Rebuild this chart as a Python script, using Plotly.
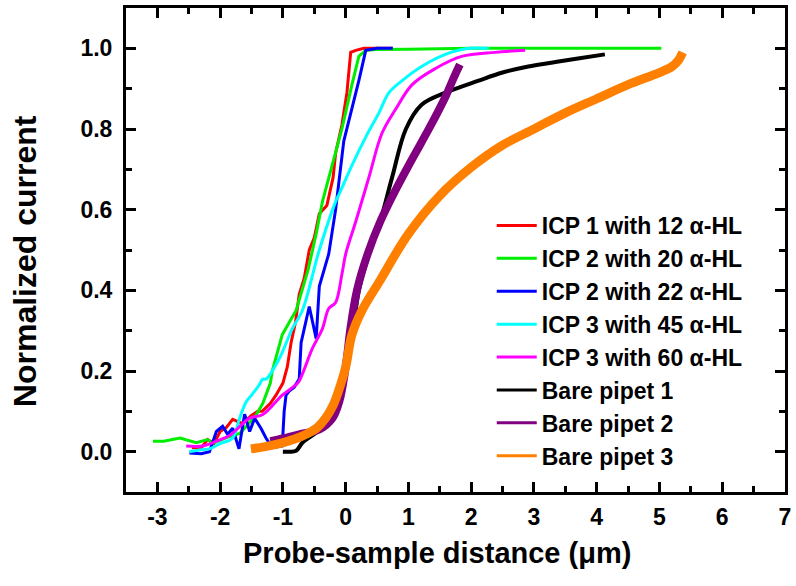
import plotly.graph_objects as go

# ---------------- data ----------------
names = ["ICP 1 with 12 α-HL", "ICP 2 with 20 α-HL", "ICP 2 with 22 α-HL",
         "ICP 3 with 45 α-HL", "ICP 3 with 60 α-HL",
         "Bare pipet 1", "Bare pipet 2", "Bare pipet 3"]

icp1_12_x = [-2.45, -2.3, -2.2, -2.1, -2.0, -1.9, -1.8, -1.65, -1.5, -1.4, -1.33, -1.2, -1.11, -1.0,
             -0.93, -0.87, -0.8, -0.74, -0.66, -0.58, -0.5, -0.42, -0.3, -0.27, -0.2, -0.16, -0.06,
             0.02, 0.05, 0.08, 0.16, 0.29, 0.5, 0.75]
icp1_12_y = [0.01, 0.01, 0.03, 0.02, 0.05, 0.06, 0.08, 0.07, 0.09, 0.10, 0.10, 0.12, 0.14, 0.17,
             0.21, 0.27, 0.32, 0.39, 0.43, 0.50, 0.53, 0.59, 0.61, 0.63, 0.68, 0.74, 0.81,
             0.89, 0.95, 0.99, 0.995, 1.0, 1.0, 1.0]

icp2_20_x = [-3.07, -2.9, -2.64, -2.5, -2.38, -2.2, -2.12, -1.9, -1.69, -1.6, -1.43, -1.32, -1.2,
             -1.17, -1.01, -0.9, -0.79, -0.6, -0.47, -0.37, -0.21, -0.06, 0.1, 0.21, 0.32, 0.5,
             1.0, 2.0, 3.0, 4.0, 5.03]
icp2_20_y = [0.026, 0.026, 0.034, 0.028, 0.022, 0.03, 0.02, 0.035, 0.045, 0.06, 0.09, 0.12, 0.17,
             0.20, 0.29, 0.32, 0.35, 0.45, 0.54, 0.62, 0.71, 0.80, 0.91, 0.98, 0.995, 0.997,
             0.998, 1.0, 1.0, 1.0, 1.0]

icp2_22_x = [-2.49, -2.3, -2.17, -2.06, -1.96, -1.88, -1.80, -1.70, -1.61, -1.53, -1.45, -1.35,
             -1.27, -1.17, -1.01, -0.98, -0.95, -0.90, -0.82, -0.74, -0.71, -0.58, -0.47, -0.42,
             -0.27, -0.16, -0.03, 0.1, 0.21, 0.32, 0.5, 0.75]
icp2_22_y = [-0.003, -0.005, 0.0, 0.05, 0.063, 0.043, 0.058, 0.007, 0.093, 0.05, 0.083, 0.058,
             0.034, 0.01, 0.014, 0.10, 0.14, 0.15, 0.16, 0.18, 0.27, 0.36, 0.28, 0.41,
             0.49, 0.60, 0.77, 0.85, 0.92, 0.995, 1.0, 1.0]

icp3_45_x = [-2.49, -2.3, -2.17, -2.0, -1.8, -1.69, -1.58, -1.5, -1.38, -1.32, -1.27, -1.06,
             -0.85, -0.69, -0.42, -0.16, -0.1, 0.1, 0.32, 0.53, 0.69, 0.9, 1.21, 1.59, 1.96, 2.28]
icp3_45_y = [0.0, 0.005, 0.007, 0.02, 0.034, 0.083, 0.125, 0.14, 0.165, 0.18, 0.18, 0.23,
             0.305, 0.35, 0.50, 0.62, 0.64, 0.71, 0.78, 0.84, 0.89, 0.92, 0.955, 0.985, 1.0, 1.0]

icp3_60_x = [-2.54, -2.28, -2.06, -1.85, -1.53, -1.32, -1.01, -0.79, -0.74, -0.53, -0.37, -0.27,
             -0.16, -0.06, 0.0, 0.16, 0.37, 0.58, 0.8, 1.06, 1.43, 1.85, 2.38, 2.86]
icp3_60_y = [0.014, 0.014, 0.026, 0.04, 0.083, 0.092, 0.14, 0.166, 0.175, 0.256, 0.305, 0.355,
             0.37, 0.44, 0.49, 0.57, 0.68, 0.79, 0.85, 0.91, 0.95, 0.98, 0.99, 0.995]

bare1_x = [-1.0, -0.9, -0.79, -0.69, -0.47, -0.3, -0.21, -0.1, 0.0, 0.1, 0.21, 0.35, 0.53,
           0.74, 0.96, 1.21, 1.59, 2.12, 2.5, 2.91, 3.3, 3.70, 4.13]
bare1_y = [0.0, 0.0, 0.002, 0.022, 0.047, 0.07, 0.083, 0.12, 0.19, 0.28, 0.40, 0.48, 0.56,
           0.68, 0.80, 0.86, 0.89, 0.92, 0.94, 0.955, 0.965, 0.975, 0.985]

bare2_x = [-1.2, -1.0, -0.74, -0.42, -0.21, -0.1, 0.0, 0.08, 0.18, 0.35, 0.55, 0.8, 1.04,
           1.36, 1.59, 1.73, 1.82]
bare2_y = [0.026, 0.033, 0.043, 0.055, 0.083, 0.125, 0.21, 0.31, 0.40, 0.49, 0.57, 0.65, 0.72,
           0.81, 0.88, 0.93, 0.96]

bare3_x = [-1.51, -1.3, -1.01, -0.8, -0.63, -0.45, -0.32, -0.2, -0.1, 0.0, 0.1, 0.26, 0.53,
           1.0, 1.5, 2.0, 2.5, 3.0, 3.5, 4.0, 4.5, 5.0, 5.2, 5.3, 5.37]
bare3_y = [0.007, 0.012, 0.022, 0.032, 0.043, 0.06, 0.083, 0.115, 0.157, 0.21, 0.29, 0.35, 0.42,
           0.54, 0.635, 0.705, 0.76, 0.80, 0.84, 0.875, 0.91, 0.94, 0.955, 0.97, 0.99]

x_ticks = [-3, -2, -1, 0, 1, 2, 3, 4, 5, 6, 7]
x_tick_labels = ["-3", "-2", "-1", "0", "1", "2", "3", "4", "5", "6", "7"]
y_ticks = [0.0, 0.2, 0.4, 0.6, 0.8, 1.0]
x_title = "Probe-sample distance (μm)"
y_title = "Normalized current"

series_x = [icp1_12_x, icp2_20_x, icp2_22_x, icp3_45_x, icp3_60_x, bare1_x, bare2_x, bare3_x]
series_y = [icp1_12_y, icp2_20_y, icp2_22_y, icp3_45_y, icp3_60_y, bare1_y, bare2_y, bare3_y]

# ---------------- styles ----------------
colors = ["#ff0000", "#00ee00", "#0000ff", "#00ffff", "#ff00ff", "#000000", "#800080", "#ff8000"]
widths = [3, 3, 3, 3, 3, 4, 8, 9]
shapes = ["linear", "linear", "linear", "spline", "spline", "spline", "spline", "spline"]

FONT = "Liberation Sans, Arial, Helvetica, sans-serif"

fig = go.Figure()
for i in range(len(names)):
    fig.add_trace(go.Scatter(
        x=series_x[i], y=series_y[i], mode="lines", name=names[i],
        line=dict(color=colors[i], width=widths[i], shape=shapes[i]),
        showlegend=False, legendgroup=names[i]))
# legend entries drawn with uniform thin lines, as in the reference
for i in range(len(names)):
    fig.add_trace(go.Scatter(
        x=[None], y=[None], mode="lines", name=names[i],
        line=dict(color=colors[i], width=3), legendgroup=names[i]))

axis_common = dict(
    showline=True, linecolor="black", linewidth=3, mirror="allticks",
    ticks="inside", ticklen=10, tickwidth=3, tickcolor="black",
    showgrid=False, zeroline=False,
    tickfont=dict(family=FONT, size=23, color="black", weight="bold"),
)

fig.update_xaxes(
    range=[-3.5, 7], tickvals=x_ticks, ticktext=x_tick_labels,
    minor=dict(dtick=0.5, ticks="inside", ticklen=6, tickwidth=3, tickcolor="black"),
    ticklabelstandoff=2,
    **axis_common)
fig.update_yaxes(
    range=[-0.1, 1.1], tickvals=y_ticks, tickformat=".1f",
    minor=dict(dtick=0.1, ticks="inside", ticklen=6, tickwidth=3, tickcolor="black"),
    ticklabelstandoff=6,
    **axis_common)

fig.add_annotation(text=x_title, xref="paper", yref="paper", x=0.472, y=-0.125,
                   xanchor="center", yanchor="middle", showarrow=False,
                   font=dict(family=FONT, size=29, color="black", weight="bold"))
fig.add_annotation(text=y_title, xref="paper", yref="paper", x=-0.154, y=0.476,
                   xanchor="center", yanchor="middle", showarrow=False, textangle=-90,
                   font=dict(family=FONT, size=32, color="black", weight="bold"))

fig.update_layout(
    width=796, height=586,
    margin=dict(l=126, r=9, t=5, b=94),
    paper_bgcolor="white", plot_bgcolor="white",
    legend=dict(x=0.555, y=0.595, xanchor="left", yanchor="top",
                bgcolor="rgba(0,0,0,0)", borderwidth=0,
                font=dict(family=FONT, size=23, color="black", weight="bold"),
                tracegroupgap=0, itemwidth=40),
    showlegend=True,
)

fig.write_html("out.html", config={"displayModeBar": False},
               post_script="document.body.style.margin='0';")
